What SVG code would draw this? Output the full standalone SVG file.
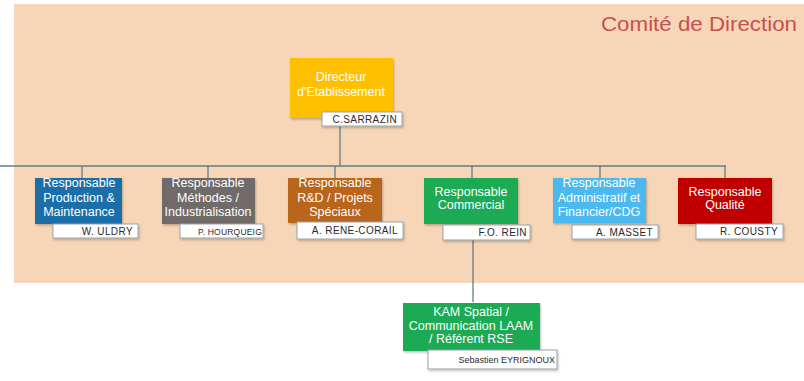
<svg xmlns="http://www.w3.org/2000/svg" width="804" height="381" viewBox="0 0 804 381">
<style>
.t{font-family:"Liberation Sans",Arial,sans-serif;font-size:12.5px;fill:#ffffff;text-anchor:middle}
.n{font-family:"Liberation Sans",Arial,sans-serif;font-size:10px;fill:#2a2a2a;text-anchor:end;letter-spacing:0.4px}
.nb{fill:#ffffff;stroke:#9aa3a8;stroke-width:1}
.ln{stroke:#5f7d88;stroke-width:1.3;fill:none}
</style>
<defs>
<filter id="sh" x="-10%" y="-10%" width="130%" height="140%">
<feDropShadow dx="1" dy="1.5" stdDeviation="1" flood-color="#000" flood-opacity="0.25"/>
</filter>
</defs>
<rect x="0" y="0" width="804" height="381" fill="#ffffff"/>
<rect x="14" y="4" width="790" height="279" fill="#f6d6b7"/>
<text x="797" y="31" font-family="Liberation Sans,Arial,sans-serif" font-size="20" fill="#c8504d" text-anchor="end" textLength="196" lengthAdjust="spacingAndGlyphs">Comité de Direction</text>

<g id="connectors">
<path class="ln" d="M340 126V166M0 166H726M82 166V178M208 166V178M335 166V178M472 166V178M600 166V178M725 166V178M473 240V302"/>
</g>

<g id="directeur">
<rect x="290" y="58" width="103" height="60" fill="#ffc000" filter="url(#sh)"/>
<text class="t" x="341" y="81">Directeur</text>
<text class="t" x="341" y="96">d'Etablissement</text>
<rect class="nb" x="322" y="112" width="80" height="14" filter="url(#sh)"/>
<text class="n" x="397" y="123">C.SARRAZIN</text>
</g>

<g id="production">
<rect x="35" y="178" width="87" height="46" fill="#1f6ea8" filter="url(#sh)"/>
<text class="t" x="79" y="187">Responsable</text>
<text class="t" x="79" y="202">Production &amp;</text>
<text class="t" x="79" y="216">Maintenance</text>
<rect class="nb" x="53" y="224" width="85" height="14" filter="url(#sh)"/>
<text class="n" x="133" y="235">W. ULDRY</text>
</g>

<g id="methodes">
<rect x="162" y="178" width="93" height="46" fill="#6f6a68" filter="url(#sh)"/>
<text class="t" x="208" y="187">Responsable</text>
<text class="t" x="208" y="202">Méthodes /</text>
<text class="t" x="208" y="216">Industrialisation</text>
<rect class="nb" x="180" y="224" width="83" height="14" filter="url(#sh)"/>
<text class="n" x="262" y="235" style="font-size:8.5px;letter-spacing:0.2px">P. HOURQUEIG</text>
</g>

<g id="rd">
<rect x="288" y="178" width="94" height="45" fill="#b9651f" filter="url(#sh)"/>
<text class="t" x="335" y="187">Responsable</text>
<text class="t" x="335" y="202">R&amp;D / Projets</text>
<text class="t" x="335" y="216">Spéciaux</text>
<rect class="nb" x="297" y="222" width="106" height="17" filter="url(#sh)"/>
<text class="n" x="398" y="234">A. RENE-CORAIL</text>
</g>

<g id="commercial">
<rect x="424" y="178" width="94" height="46" fill="#1eaa55" filter="url(#sh)"/>
<text class="t" x="471" y="196">Responsable</text>
<text class="t" x="471" y="209">Commercial</text>
<rect class="nb" x="443" y="225" width="87" height="15" filter="url(#sh)"/>
<text class="n" x="527" y="236">F.O. REIN</text>
</g>

<g id="administratif">
<rect x="553" y="178" width="93" height="45" fill="#4bb9ee" filter="url(#sh)"/>
<text class="t" x="599" y="187">Responsable</text>
<text class="t" x="599" y="202">Administratif et</text>
<text class="t" x="599" y="216">Financier/CDG</text>
<rect class="nb" x="572" y="225" width="86" height="14" filter="url(#sh)"/>
<text class="n" x="653" y="236">A. MASSET</text>
</g>

<g id="qualite">
<rect x="678" y="178" width="94" height="46" fill="#c00000" filter="url(#sh)"/>
<text class="t" x="725" y="196">Responsable</text>
<text class="t" x="725" y="209">Qualité</text>
<rect class="nb" x="696" y="224" width="87" height="15" filter="url(#sh)"/>
<text class="n" x="778" y="235">R. COUSTY</text>
</g>

<g id="kam">
<rect x="403" y="303" width="137" height="48" fill="#1eaa55" filter="url(#sh)"/>
<text class="t" x="471" y="316">KAM Spatial /</text>
<text class="t" x="471" y="330">Communication LAAM</text>
<text class="t" x="471" y="343">/ Référent RSE</text>
<rect class="nb" x="428" y="350" width="129" height="19" filter="url(#sh)"/>
<text class="n" x="555" y="363" style="font-size:9px;letter-spacing:0px">Sebastien EYRIGNOUX</text>
</g>
</svg>
